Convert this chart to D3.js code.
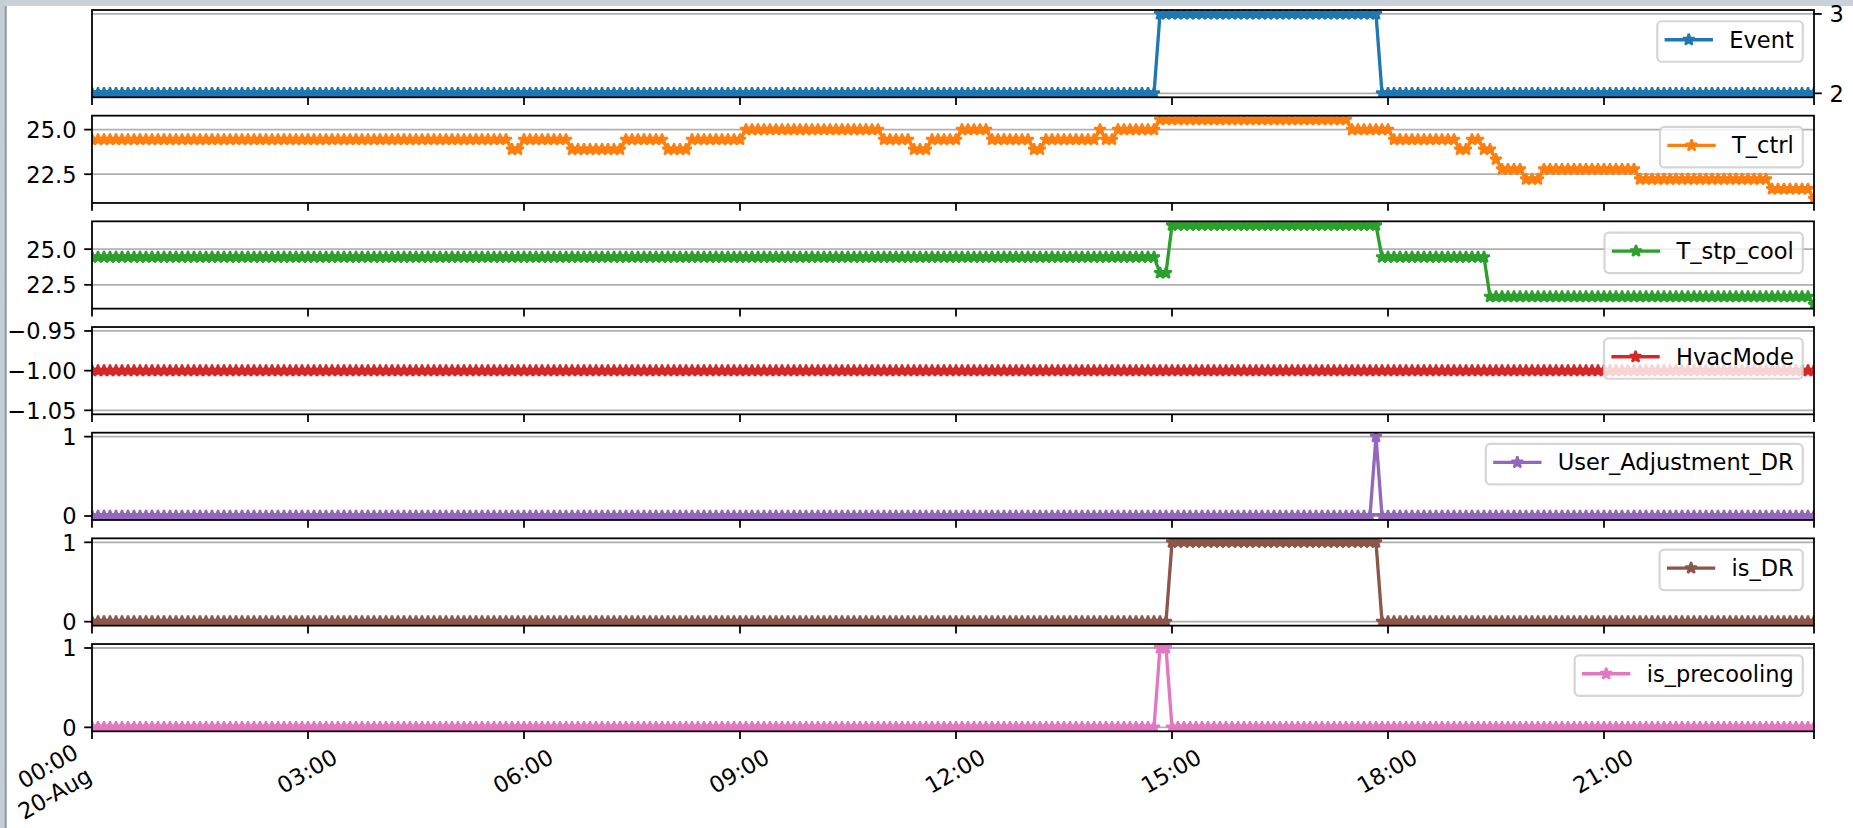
<!DOCTYPE html>
<html><head><meta charset="utf-8">
<script src="https://cdn.jsdelivr.net/npm/d3@7"></script>
<style>
html,body{margin:0;padding:0;background:#fff;overflow:hidden;}
svg{display:block;}
text{font-family:"DejaVu Sans",sans-serif;fill:#000;}
</style></head><body>
<svg id="chart" width="1853" height="828"></svg>
<script>
// ---------------- DATA ----------------
const startTime = "2018-08-20T00:00:00";
const stepMinutes = 5;

const seriesNames = ["Event","T_ctrl","T_stp_cool","HvacMode","User_Adjustment_DR","is_DR","is_precooling"];
const seriesColors = ["#1f77b4","#ff7f0e","#2ca02c","#d62728","#9467bd","#8c564b","#e377c2"];

const Event = [
2,2,2,2,2,2, 2,2,2,2,2,2, 2,2,2,2,2,2, 2,2,2,2,2,2,
2,2,2,2,2,2, 2,2,2,2,2,2, 2,2,2,2,2,2, 2,2,2,2,2,2,
2,2,2,2,2,2, 2,2,2,2,2,2, 2,2,2,2,2,2, 2,2,2,2,2,2,
2,2,2,2,2,2, 2,2,2,2,2,2, 2,2,2,2,2,2, 2,2,2,2,2,2,
2,2,2,2,2,2, 2,2,2,2,2,2, 2,2,2,2,2,2, 2,2,2,2,2,2,
2,2,2,2,2,2, 2,2,2,2,2,2, 2,2,2,2,2,2, 2,2,2,2,2,2,
2,2,2,2,2,2, 2,2,2,2,2,2, 2,2,2,2,2,2, 2,2,2,2,2,2,
2,2,2,2,2,2, 2,2,2,2,3,3, 3,3,3,3,3,3, 3,3,3,3,3,3,
3,3,3,3,3,3, 3,3,3,3,3,3, 3,3,3,3,3,3, 3,3,3,3,3,2,
2,2,2,2,2,2, 2,2,2,2,2,2, 2,2,2,2,2,2, 2,2,2,2,2,2,
2,2,2,2,2,2, 2,2,2,2,2,2, 2,2,2,2,2,2, 2,2,2,2,2,2,
2,2,2,2,2,2, 2,2,2,2,2,2, 2,2,2,2,2,2, 2,2,2,2,2,2
];

const T_ctrl = [
24.44,24.44,24.44,24.44,24.44,24.44, 24.44,24.44,24.44,24.44,24.44,24.44, 24.44,24.44,24.44,24.44,24.44,24.44, 24.44,24.44,24.44,24.44,24.44,24.44,
24.44,24.44,24.44,24.44,24.44,24.44, 24.44,24.44,24.44,24.44,24.44,24.44, 24.44,24.44,24.44,24.44,24.44,24.44, 24.44,24.44,24.44,24.44,24.44,24.44,
24.44,24.44,24.44,24.44,24.44,24.44, 24.44,24.44,24.44,24.44,24.44,24.44, 24.44,24.44,24.44,24.44,24.44,24.44, 24.44,24.44,24.44,24.44,23.89,23.89,
24.44,24.44,24.44,24.44,24.44,24.44, 24.44,24.44,23.89,23.89,23.89,23.89, 23.89,23.89,23.89,23.89,23.89,24.44, 24.44,24.44,24.44,24.44,24.44,24.44,
23.89,23.89,23.89,23.89,24.44,24.44, 24.44,24.44,24.44,24.44,24.44,24.44, 24.44,25.0,25.0,25.0,25.0,25.0, 25.0,25.0,25.0,25.0,25.0,25.0,
25.0,25.0,25.0,25.0,25.0,25.0, 25.0,25.0,25.0,25.0,25.0,25.0, 24.44,24.44,24.44,24.44,24.44,23.89, 23.89,23.89,24.44,24.44,24.44,24.44,
24.44,25.0,25.0,25.0,25.0,25.0, 24.44,24.44,24.44,24.44,24.44,24.44, 24.44,23.89,23.89,24.44,24.44,24.44, 24.44,24.44,24.44,24.44,24.44,24.44,
25.0,24.44,24.44,25.0,25.0,25.0, 25.0,25.0,25.0,25.0,25.56,25.56, 25.56,25.56,25.56,25.56,25.56,25.56, 25.56,25.56,25.56,25.56,25.56,25.56,
25.56,25.56,25.56,25.56,25.56,25.56, 25.56,25.56,25.56,25.56,25.56,25.56, 25.56,25.56,25.56,25.56,25.56,25.56, 25.0,25.0,25.0,25.0,25.0,25.0,
25.0,24.44,24.44,24.44,24.44,24.44, 24.44,24.44,24.44,24.44,24.44,24.44, 23.89,23.89,24.44,24.44,23.89,23.89, 23.33,22.78,22.78,22.78,22.78,22.22,
22.22,22.22,22.78,22.78,22.78,22.78, 22.78,22.78,22.78,22.78,22.78,22.78, 22.78,22.78,22.78,22.78,22.78,22.78, 22.22,22.22,22.22,22.22,22.22,22.22,
22.22,22.22,22.22,22.22,22.22,22.22, 22.22,22.22,22.22,22.22,22.22,22.22, 22.22,22.22,22.22,22.22,21.67,21.67, 21.67,21.67,21.67,21.67,21.67,21.11
];

const T_stp_cool = [
24.44,24.44,24.44,24.44,24.44,24.44, 24.44,24.44,24.44,24.44,24.44,24.44, 24.44,24.44,24.44,24.44,24.44,24.44, 24.44,24.44,24.44,24.44,24.44,24.44,
24.44,24.44,24.44,24.44,24.44,24.44, 24.44,24.44,24.44,24.44,24.44,24.44, 24.44,24.44,24.44,24.44,24.44,24.44, 24.44,24.44,24.44,24.44,24.44,24.44,
24.44,24.44,24.44,24.44,24.44,24.44, 24.44,24.44,24.44,24.44,24.44,24.44, 24.44,24.44,24.44,24.44,24.44,24.44, 24.44,24.44,24.44,24.44,24.44,24.44,
24.44,24.44,24.44,24.44,24.44,24.44, 24.44,24.44,24.44,24.44,24.44,24.44, 24.44,24.44,24.44,24.44,24.44,24.44, 24.44,24.44,24.44,24.44,24.44,24.44,
24.44,24.44,24.44,24.44,24.44,24.44, 24.44,24.44,24.44,24.44,24.44,24.44, 24.44,24.44,24.44,24.44,24.44,24.44, 24.44,24.44,24.44,24.44,24.44,24.44,
24.44,24.44,24.44,24.44,24.44,24.44, 24.44,24.44,24.44,24.44,24.44,24.44, 24.44,24.44,24.44,24.44,24.44,24.44, 24.44,24.44,24.44,24.44,24.44,24.44,
24.44,24.44,24.44,24.44,24.44,24.44, 24.44,24.44,24.44,24.44,24.44,24.44, 24.44,24.44,24.44,24.44,24.44,24.44, 24.44,24.44,24.44,24.44,24.44,24.44,
24.44,24.44,24.44,24.44,24.44,24.44, 24.44,24.44,24.44,24.44,23.33,23.33, 26.67,26.67,26.67,26.67,26.67,26.67, 26.67,26.67,26.67,26.67,26.67,26.67,
26.67,26.67,26.67,26.67,26.67,26.67, 26.67,26.67,26.67,26.67,26.67,26.67, 26.67,26.67,26.67,26.67,26.67,26.67, 26.67,26.67,26.67,26.67,26.67,24.44,
24.44,24.44,24.44,24.44,24.44,24.44, 24.44,24.44,24.44,24.44,24.44,24.44, 24.44,24.44,24.44,24.44,24.44,21.67, 21.67,21.67,21.67,21.67,21.67,21.67,
21.67,21.67,21.67,21.67,21.67,21.67, 21.67,21.67,21.67,21.67,21.67,21.67, 21.67,21.67,21.67,21.67,21.67,21.67, 21.67,21.67,21.67,21.67,21.67,21.67,
21.67,21.67,21.67,21.67,21.67,21.67, 21.67,21.67,21.67,21.67,21.67,21.67, 21.67,21.67,21.67,21.67,21.67,21.67, 21.67,21.67,21.67,21.67,21.67,21.11
];

const HvacMode = [
-1,-1,-1,-1,-1,-1, -1,-1,-1,-1,-1,-1, -1,-1,-1,-1,-1,-1, -1,-1,-1,-1,-1,-1,
-1,-1,-1,-1,-1,-1, -1,-1,-1,-1,-1,-1, -1,-1,-1,-1,-1,-1, -1,-1,-1,-1,-1,-1,
-1,-1,-1,-1,-1,-1, -1,-1,-1,-1,-1,-1, -1,-1,-1,-1,-1,-1, -1,-1,-1,-1,-1,-1,
-1,-1,-1,-1,-1,-1, -1,-1,-1,-1,-1,-1, -1,-1,-1,-1,-1,-1, -1,-1,-1,-1,-1,-1,
-1,-1,-1,-1,-1,-1, -1,-1,-1,-1,-1,-1, -1,-1,-1,-1,-1,-1, -1,-1,-1,-1,-1,-1,
-1,-1,-1,-1,-1,-1, -1,-1,-1,-1,-1,-1, -1,-1,-1,-1,-1,-1, -1,-1,-1,-1,-1,-1,
-1,-1,-1,-1,-1,-1, -1,-1,-1,-1,-1,-1, -1,-1,-1,-1,-1,-1, -1,-1,-1,-1,-1,-1,
-1,-1,-1,-1,-1,-1, -1,-1,-1,-1,-1,-1, -1,-1,-1,-1,-1,-1, -1,-1,-1,-1,-1,-1,
-1,-1,-1,-1,-1,-1, -1,-1,-1,-1,-1,-1, -1,-1,-1,-1,-1,-1, -1,-1,-1,-1,-1,-1,
-1,-1,-1,-1,-1,-1, -1,-1,-1,-1,-1,-1, -1,-1,-1,-1,-1,-1, -1,-1,-1,-1,-1,-1,
-1,-1,-1,-1,-1,-1, -1,-1,-1,-1,-1,-1, -1,-1,-1,-1,-1,-1, -1,-1,-1,-1,-1,-1,
-1,-1,-1,-1,-1,-1, -1,-1,-1,-1,-1,-1, -1,-1,-1,-1,-1,-1, -1,-1,-1,-1,-1,-1
];

const User_Adjustment_DR = [
0,0,0,0,0,0, 0,0,0,0,0,0, 0,0,0,0,0,0, 0,0,0,0,0,0,
0,0,0,0,0,0, 0,0,0,0,0,0, 0,0,0,0,0,0, 0,0,0,0,0,0,
0,0,0,0,0,0, 0,0,0,0,0,0, 0,0,0,0,0,0, 0,0,0,0,0,0,
0,0,0,0,0,0, 0,0,0,0,0,0, 0,0,0,0,0,0, 0,0,0,0,0,0,
0,0,0,0,0,0, 0,0,0,0,0,0, 0,0,0,0,0,0, 0,0,0,0,0,0,
0,0,0,0,0,0, 0,0,0,0,0,0, 0,0,0,0,0,0, 0,0,0,0,0,0,
0,0,0,0,0,0, 0,0,0,0,0,0, 0,0,0,0,0,0, 0,0,0,0,0,0,
0,0,0,0,0,0, 0,0,0,0,0,0, 0,0,0,0,0,0, 0,0,0,0,0,0,
0,0,0,0,0,0, 0,0,0,0,0,0, 0,0,0,0,0,0, 0,0,0,0,1,0,
0,0,0,0,0,0, 0,0,0,0,0,0, 0,0,0,0,0,0, 0,0,0,0,0,0,
0,0,0,0,0,0, 0,0,0,0,0,0, 0,0,0,0,0,0, 0,0,0,0,0,0,
0,0,0,0,0,0, 0,0,0,0,0,0, 0,0,0,0,0,0, 0,0,0,0,0,0
];

const is_DR = [
0,0,0,0,0,0, 0,0,0,0,0,0, 0,0,0,0,0,0, 0,0,0,0,0,0,
0,0,0,0,0,0, 0,0,0,0,0,0, 0,0,0,0,0,0, 0,0,0,0,0,0,
0,0,0,0,0,0, 0,0,0,0,0,0, 0,0,0,0,0,0, 0,0,0,0,0,0,
0,0,0,0,0,0, 0,0,0,0,0,0, 0,0,0,0,0,0, 0,0,0,0,0,0,
0,0,0,0,0,0, 0,0,0,0,0,0, 0,0,0,0,0,0, 0,0,0,0,0,0,
0,0,0,0,0,0, 0,0,0,0,0,0, 0,0,0,0,0,0, 0,0,0,0,0,0,
0,0,0,0,0,0, 0,0,0,0,0,0, 0,0,0,0,0,0, 0,0,0,0,0,0,
0,0,0,0,0,0, 0,0,0,0,0,0, 1,1,1,1,1,1, 1,1,1,1,1,1,
1,1,1,1,1,1, 1,1,1,1,1,1, 1,1,1,1,1,1, 1,1,1,1,1,0,
0,0,0,0,0,0, 0,0,0,0,0,0, 0,0,0,0,0,0, 0,0,0,0,0,0,
0,0,0,0,0,0, 0,0,0,0,0,0, 0,0,0,0,0,0, 0,0,0,0,0,0,
0,0,0,0,0,0, 0,0,0,0,0,0, 0,0,0,0,0,0, 0,0,0,0,0,0
];

const is_precooling = [
0,0,0,0,0,0, 0,0,0,0,0,0, 0,0,0,0,0,0, 0,0,0,0,0,0,
0,0,0,0,0,0, 0,0,0,0,0,0, 0,0,0,0,0,0, 0,0,0,0,0,0,
0,0,0,0,0,0, 0,0,0,0,0,0, 0,0,0,0,0,0, 0,0,0,0,0,0,
0,0,0,0,0,0, 0,0,0,0,0,0, 0,0,0,0,0,0, 0,0,0,0,0,0,
0,0,0,0,0,0, 0,0,0,0,0,0, 0,0,0,0,0,0, 0,0,0,0,0,0,
0,0,0,0,0,0, 0,0,0,0,0,0, 0,0,0,0,0,0, 0,0,0,0,0,0,
0,0,0,0,0,0, 0,0,0,0,0,0, 0,0,0,0,0,0, 0,0,0,0,0,0,
0,0,0,0,0,0, 0,0,0,0,1,1, 0,0,0,0,0,0, 0,0,0,0,0,0,
0,0,0,0,0,0, 0,0,0,0,0,0, 0,0,0,0,0,0, 0,0,0,0,0,0,
0,0,0,0,0,0, 0,0,0,0,0,0, 0,0,0,0,0,0, 0,0,0,0,0,0,
0,0,0,0,0,0, 0,0,0,0,0,0, 0,0,0,0,0,0, 0,0,0,0,0,0,
0,0,0,0,0,0, 0,0,0,0,0,0, 0,0,0,0,0,0, 0,0,0,0,0,0
];

// x tick marks (hours after start) and labels
const xTickHours = [0,3,6,9,12,15,18,21];
const xTickLabels = ["00:00\n20-Aug","03:00","06:00","09:00","12:00","15:00","18:00","21:00"];

// y ticks per panel
const eventTicks = [2,3];            const eventTickLabels = ["2","3"];
const tctrlTicks = [22.5,25.0];      const tctrlTickLabels = ["22.5","25.0"];
const tstpTicks = [22.5,25.0];       const tstpTickLabels = ["22.5","25.0"];
const hvacTicks = [-1.05,-1.00,-0.95]; const hvacTickLabels = ["\u22121.05","\u22121.00","\u22120.95"];
const binTicks = [0,1];              const binTickLabels = ["0","1"];

// ---------------- LAYOUT / STYLE ----------------
const W = 1853, H = 828;
const fs = 22.5;           // font size px
const pt = 2.22;           // px per point
const plotLeft = 92, plotRight = 1814;
const panelTop0 = 10, panelStep = 105.67, panelH = 87.3;
const tickLen = 3.5*pt, tickPad = 3.5*pt;

const svg = d3.select("#chart");

// window chrome
svg.append("rect").attr("x",0).attr("y",0).attr("width",W).attr("height",6).attr("fill","#c9d2d8");
svg.append("rect").attr("x",0).attr("y",0).attr("width",5).attr("height",H).attr("fill","#c4ced4");
svg.append("rect").attr("x",4.7).attr("y",6).attr("width",2).attr("height",H-6).attr("fill","#8b9aa2");

const t0 = new Date(startTime);
const nPts = Event.length;
const times = d3.range(nPts).map(i => new Date(t0.getTime() + i*stepMinutes*60000));
const x = d3.scaleTime().domain([times[0], times[nPts-1]]).range([plotLeft, plotRight]);
const xTickDates = xTickHours.map(h => new Date(t0.getTime() + h*3600000)).concat([times[nPts-1]]);

function autoDomain(vals){
  let lo = d3.min(vals), hi = d3.max(vals);
  if (lo === hi){ const d = Math.abs(lo)*0.05 || 0.05; lo -= d; hi += d; }
  const m = (hi-lo)*0.05;
  return [lo-m, hi+m];
}

function starPath(r){
  const ri = r*0.381966, p = [];
  for (let j=0;j<10;j++){
    const a = -Math.PI/2 + j*Math.PI/5, rr = (j%2) ? ri : r;
    p.push((rr*Math.cos(a)).toFixed(2)+","+(rr*Math.sin(a)).toFixed(2));
  }
  return "M"+p.join("L")+"Z";
}
const starD = starPath(6.0);

const seriesValues = [Event, T_ctrl, T_stp_cool, HvacMode, User_Adjustment_DR, is_DR, is_precooling];
const seriesTicks = [eventTicks, tctrlTicks, tstpTicks, hvacTicks, binTicks, binTicks, binTicks];
const seriesTickLabels = [eventTickLabels, tctrlTickLabels, tstpTickLabels, hvacTickLabels, binTickLabels, binTickLabels, binTickLabels];
const tickSide = ["right","left","left","left","left","left","left"];

seriesNames.forEach((name, pi) => {
  const vals = seriesValues[pi], color = seriesColors[pi];
  const top = panelTop0 + pi*panelStep, bottom = top + panelH;
  const y = d3.scaleLinear().domain(autoDomain(vals)).range([bottom, top]);
  const g = svg.append("g");

  const clipId = "clip"+pi;
  svg.append("clipPath").attr("id", clipId).append("rect")
     .attr("x", plotLeft).attr("y", top).attr("width", plotRight-plotLeft).attr("height", panelH);

  // grid
  g.selectAll(".grid").data(seriesTicks[pi]).enter().append("line")
    .attr("x1", plotLeft).attr("x2", plotRight)
    .attr("y1", d => y(d)).attr("y2", d => y(d))
    .attr("stroke", "#b0b0b0").attr("stroke-width", 0.8*pt);

  // data
  const dg = g.append("g").attr("clip-path", "url(#"+clipId+")");
  const line = d3.line().x((d,i) => x(times[i])).y(d => y(d));
  dg.append("path").attr("d", line(vals)).attr("fill","none")
    .attr("stroke", color).attr("stroke-width", 1.5*pt)
    .attr("stroke-linejoin","round").attr("stroke-linecap","square");
  dg.selectAll(".mk").data(vals).enter().append("path")
    .attr("d", starD)
    .attr("transform", (d,i) => "translate("+x(times[i]).toFixed(2)+","+y(d).toFixed(2)+")")
    .attr("fill", color).attr("stroke", color).attr("stroke-width", 1.0*pt)
    .attr("stroke-linejoin","bevel");

  // spines
  g.append("rect").attr("x", plotLeft).attr("y", top)
    .attr("width", plotRight-plotLeft).attr("height", panelH)
    .attr("fill","none").attr("stroke","#000").attr("stroke-width", 0.8*pt);

  // x ticks
  g.selectAll(".xt").data(xTickDates).enter().append("line")
    .attr("x1", d => x(d)).attr("x2", d => x(d))
    .attr("y1", bottom).attr("y2", bottom + tickLen)
    .attr("stroke","#000").attr("stroke-width", 0.8*pt);

  // y ticks + labels
  const side = tickSide[pi];
  const tx = side === "left" ? plotLeft : plotRight;
  const dir = side === "left" ? -1 : 1;
  seriesTicks[pi].forEach((tv, ti) => {
    g.append("line").attr("x1", tx).attr("x2", tx + dir*tickLen)
      .attr("y1", y(tv)).attr("y2", y(tv))
      .attr("stroke","#000").attr("stroke-width", 0.8*pt);
    g.append("text").attr("x", tx + dir*(tickLen+tickPad)).attr("y", y(tv))
      .attr("dy", "0.375em").attr("font-size", fs)
      .attr("text-anchor", side === "left" ? "end" : "start")
      .text(seriesTickLabels[pi][ti]);
  });

  // legend
  const lg = g.append("g");
  const box = lg.append("rect");
  const txt = lg.append("text").attr("font-size", fs).text(name);
  const tw = txt.node().getComputedTextLength();
  const bw = 3.6*fs + tw, bh = 40.5;
  const bx = plotRight - 0.5*fs - bw, by = top + 0.5*fs;
  box.attr("x", bx).attr("y", by).attr("width", bw).attr("height", bh)
     .attr("rx", 0.2*fs).attr("ry", 0.2*fs)
     .attr("fill","#fff").attr("fill-opacity",0.8)
     .attr("stroke","#cccccc").attr("stroke-opacity",0.8).attr("stroke-width", 1.0*pt);
  txt.attr("x", bx + 3.2*fs).attr("y", by + 26.5);
  const hy = by + 18.5;
  lg.append("line").attr("x1", bx + 0.4*fs).attr("x2", bx + 2.4*fs)
    .attr("y1", hy).attr("y2", hy)
    .attr("stroke", color).attr("stroke-width", 1.5*pt).attr("stroke-linecap","square");
  lg.append("path").attr("d", starD).attr("transform","translate("+(bx+1.4*fs)+","+hy+")")
    .attr("fill", color).attr("stroke", color).attr("stroke-width", 1.0*pt).attr("stroke-linejoin","bevel");

  // x tick labels on the bottom panel only
  if (pi === seriesNames.length - 1){
    const y0 = bottom + tickLen + tickPad;
    const c30 = Math.cos(Math.PI/6), s30 = Math.sin(Math.PI/6);
    xTickLabels.forEach((lab, li) => {
      const tickX = x(xTickDates[li]);
      const lines = lab.split("\n");
      const lgp = svg.append("g");
      const t = lgp.append("text").attr("font-size", fs);
      const spans = lines.map(s => t.append("tspan").text(s));
      const widths = spans.map(sp => sp.node().getComputedTextLength());
      const w = d3.max(widths);
      const hLine = fs, ht = hLine + (lines.length-1)*1.2*hLine;
      const BW = w*c30 + ht*s30, BH = w*s30 + ht*c30;
      const multi = lines.length > 1;
      // multi-line date label: right-aligned to its tick, nudged to stay inside the canvas
      const cx = multi ? tickX - BW/2 + 4 : tickX;
      const cy = multi ? y0 + BH/2 - 5 : y0 + BH/2;
      lgp.attr("transform", "translate("+cx+","+cy+") rotate(-30)");
      spans.forEach((sp, si) => {
        const base = -ht/2 + hLine - 0.236*fs + si*1.2*hLine;
        sp.attr("x", multi ? w/2 : 0).attr("y", base)
          .attr("text-anchor", multi ? "end" : "middle");
      });
    });
  }
});
</script>
</body></html>
